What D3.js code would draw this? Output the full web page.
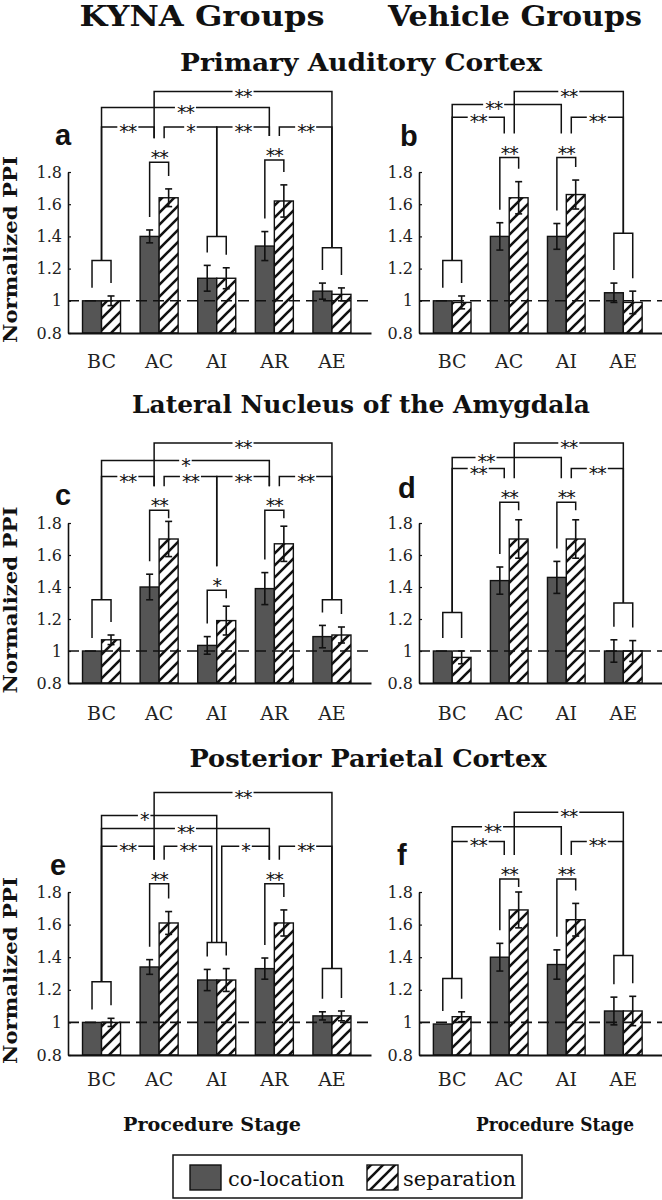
<!DOCTYPE html>
<html><head><meta charset="utf-8">
<script src="https://cdn.jsdelivr.net/npm/d3@7"></script>
<style>body{margin:0;background:#fff}svg{display:block}</style>
</head><body>
<svg id="chart" width="662" height="1200"></svg>
<script>
// ---------- data ----------
const kynaStages = ["BC", "AC", "AI", "AR", "AE"];
const vehicleStages = ["BC", "AC", "AI", "AE"];
const seriesNames = ["co-location", "separation"];
const yTicks = [0.8, 1, 1.2, 1.4, 1.6, 1.8];
const groupTitles = ["KYNA Groups", "Vehicle Groups"];
const regionTitles = ["Primary Auditory Cortex", "Lateral Nucleus of the Amygdala", "Posterior Parietal Cortex"];
const yLabel = "Normalized PPI";
const xLabel = "Procedure Stage";

// panel a (KYNA, auditory cortex)
const aColoc = [1.00, 1.40, 1.14, 1.34, 1.06];
const aColocErr = [0, 0.04, 0.08, 0.09, 0.05];
const aSep = [1.00, 1.64, 1.14, 1.62, 1.04];
const aSepErr = [0.03, 0.055, 0.065, 0.10, 0.04];
const aPairSig = ["", "**", "", "**", ""];
const aPairTop = [1.25, 1.86, 1.40, 1.875, 1.33];
const aComparisons = [
  ["BC", "c", "AC", "l", 2.08, "**"],
  ["AC", "r", "AI", "c", 2.08, "*"],
  ["AI", "c", "AR", "l", 2.08, "**"],
  ["AR", "r", "AE", "c", 2.08, "**"],
  ["BC", "c", "AR", "l", 2.20, "**"],
  ["AC", "l", "AE", "c", 2.30, "**"]
];

// panel b (Vehicle, auditory cortex)
const bColoc = [1.00, 1.40, 1.40, 1.05];
const bColocErr = [0, 0.085, 0.08, 0.06];
const bSep = [0.99, 1.64, 1.66, 0.99];
const bSepErr = [0.04, 0.10, 0.09, 0.07];
const bPairSig = ["", "**", "**", ""];
const bPairTop = [1.25, 1.89, 1.89, 1.42];
const bComparisons = [
  ["BC", "c", "AC", "l", 2.14, "**"],
  ["AI", "r", "AE", "c", 2.14, "**"],
  ["BC", "c", "AI", "l", 2.22, "**", 0.38],
  ["AC", "r", "AE", "c", 2.30, "**"]
];

// panel c (KYNA, amygdala)
const cColoc = [1.00, 1.40, 1.035, 1.39, 1.09];
const cColocErr = [0, 0.08, 0.055, 0.10, 0.07];
const cSep = [1.07, 1.70, 1.19, 1.67, 1.10];
const cSepErr = [0.03, 0.11, 0.09, 0.11, 0.05];
const cPairSig = ["", "**", "*", "**", ""];
const cPairTop = [1.32, 1.88, 1.38, 1.88, 1.32];
const cComparisons = [
  ["BC", "c", "AC", "l", 2.09, "**"],
  ["AC", "r", "AI", "c", 2.09, "**"],
  ["AI", "c", "AR", "l", 2.09, "**"],
  ["AR", "r", "AE", "c", 2.09, "**"],
  ["BC", "c", "AR", "l", 2.19, "*"],
  ["AC", "l", "AE", "c", 2.30, "**"]
];

// panel d (Vehicle, amygdala)
const dColoc = [1.00, 1.44, 1.46, 1.00];
const dColocErr = [0, 0.085, 0.10, 0.07];
const dSep = [0.96, 1.70, 1.70, 1.00];
const dSepErr = [0.04, 0.12, 0.12, 0.065];
const dPairSig = ["", "**", "**", ""];
const dPairTop = [1.24, 1.93, 1.93, 1.30];
const dComparisons = [
  ["BC", "c", "AC", "l", 2.14, "**"],
  ["AI", "r", "AE", "c", 2.14, "**"],
  ["BC", "c", "AI", "l", 2.21, "**", 0.31],
  ["AC", "r", "AE", "c", 2.30, "**"]
];

// panel e (KYNA, parietal cortex)
const eColoc = [1.00, 1.34, 1.26, 1.33, 1.04];
const eColocErr = [0, 0.045, 0.065, 0.065, 0.025];
const eSep = [1.00, 1.61, 1.26, 1.61, 1.04];
const eSepErr = [0.025, 0.07, 0.07, 0.08, 0.03];
const ePairSig = ["", "**", "", "**", ""];
const ePairTop = [1.25, 1.85, 1.49, 1.85, 1.33];
const eComparisons = [
  ["BC", "c", "AC", "l", 2.08, "**"],
  ["AC", "r", "AI", "l", 2.08, "**"],
  ["AI", "r", "AR", "l", 2.08, "*"],
  ["AR", "r", "AE", "c", 2.08, "**"],
  ["BC", "c", "AR", "l", 2.19, "**"],
  ["BC", "c", "AI", "c", 2.27, "*", 0.37],
  ["AC", "l", "AE", "c", 2.41, "**"]
];

// panel f (Vehicle, parietal cortex)
const fColoc = [0.99, 1.40, 1.355, 1.07];
const fColocErr = [0, 0.085, 0.09, 0.085];
const fSep = [1.035, 1.69, 1.63, 1.07];
const fSepErr = [0.03, 0.11, 0.10, 0.09];
const fPairSig = ["", "**", "**", ""];
const fPairTop = [1.27, 1.88, 1.88, 1.41];
const fComparisons = [
  ["BC", "c", "AC", "l", 2.11, "**"],
  ["AI", "r", "AE", "c", 2.11, "**"],
  ["BC", "c", "AI", "l", 2.20, "**", 0.37],
  ["AC", "r", "AE", "c", 2.29, "**"]
];

const panels = [
  {letter: "a", row: 0, col: 0, stages: kynaStages, coloc: aColoc, colocErr: aColocErr, sep: aSep, sepErr: aSepErr, pairSig: aPairSig, pairTop: aPairTop, comps: aComparisons},
  {letter: "b", row: 0, col: 1, stages: vehicleStages, coloc: bColoc, colocErr: bColocErr, sep: bSep, sepErr: bSepErr, pairSig: bPairSig, pairTop: bPairTop, comps: bComparisons},
  {letter: "c", row: 1, col: 0, stages: kynaStages, coloc: cColoc, colocErr: cColocErr, sep: cSep, sepErr: cSepErr, pairSig: cPairSig, pairTop: cPairTop, comps: cComparisons},
  {letter: "d", row: 1, col: 1, stages: vehicleStages, coloc: dColoc, colocErr: dColocErr, sep: dSep, sepErr: dSepErr, pairSig: dPairSig, pairTop: dPairTop, comps: dComparisons},
  {letter: "e", row: 2, col: 0, stages: kynaStages, coloc: eColoc, colocErr: eColocErr, sep: eSep, sepErr: eSepErr, pairSig: ePairSig, pairTop: ePairTop, comps: eComparisons},
  {letter: "f", row: 2, col: 1, stages: vehicleStages, coloc: fColoc, colocErr: fColocErr, sep: fSep, sepErr: fSepErr, pairSig: fPairSig, pairTop: fPairTop, comps: fComparisons}
];

// ---------- layout ----------
const rows = [
  {top: 172, bottom: 333, tickGap: 29, title: [361, 71, 362]},
  {top: 523, bottom: 683, tickGap: 31, title: [361, 413, 458]},
  {top: 892, bottom: 1055, tickGap: 25, title: [368, 767, 357]}
];
const cols = [{x0: 68, x1: 371}, {x0: 419, x1: 662}];
const letterPos = {a: [55, 145], b: [400, 146], c: [55, 505], d: [398, 498], e: [50, 875], f: [397, 865]};
const SERIF = "'DejaVu Serif', serif";
const INK = "#111";

const svg = d3.select("#chart");
svg.append("rect").attr("width", 662).attr("height", 1200).attr("fill", "#fff");
const defs = svg.append("defs");
const pat = defs.append("pattern").attr("id", "hatch").attr("patternUnits", "userSpaceOnUse")
  .attr("width", 12).attr("height", 12);
pat.append("rect").attr("width", 12).attr("height", 12).attr("fill", "#fff");
pat.append("path").attr("d", "M-3,3L3,-3M0,12L12,0M9,15L15,9")
  .attr("stroke", INK).attr("stroke-width", 2.6);
const fills = {"co-location": "#555", "separation": "url(#hatch)"};

function titleText(txt, x, y, size, len) {
  svg.append("text").attr("x", x).attr("y", y).attr("text-anchor", "middle")
    .attr("font-family", SERIF).attr("font-weight", "bold").attr("font-size", size)
    .attr("fill", INK).attr("textLength", len).attr("lengthAdjust", "spacingAndGlyphs").text(txt);
}

// group titles
titleText(groupTitles[0], 202, 26, 28, 245);
titleText(groupTitles[1], 515, 26, 28, 254);
// region titles
rows.forEach((r, i) => titleText(regionTitles[i], r.title[0], r.title[1], 24, r.title[2]));

const STAR_FS = 19;
function starLabel(g, x, cy, label) {
  return g.append("text").attr("x", x).attr("y", cy + STAR_FS * 0.58)
    .attr("text-anchor", "middle").attr("font-family", "'DejaVu Sans', sans-serif")
    .attr("font-size", STAR_FS).attr("fill", INK).attr("letter-spacing", -1).text(label);
}

panels.forEach(p => {
  const R = rows[p.row], C = cols[p.col];
  const x = d3.scaleBand().domain(p.stages).range([C.x0, C.x1])
    .paddingInner(0.34).paddingOuter(0.3).align(0.42);
  const xs = d3.scaleBand().domain(seriesNames).range([0, x.bandwidth()]);
  const y = d3.scaleLinear().domain([0.8, 1.8]).range([R.bottom, R.top]);
  const g = svg.append("g");

  const groups = p.stages.map((s, i) => ({
    stage: s, i,
    vals: [
      {series: "co-location", v: p.coloc[i], e: p.colocErr[i]},
      {series: "separation", v: p.sep[i], e: p.sepErr[i]}
    ]
  }));
  const flat = groups.flatMap(gr => gr.vals.map(d => Object.assign({stage: gr.stage}, d)));

  // bars
  g.selectAll("rect.bar").data(flat).join("rect").attr("class", "bar")
    .attr("x", d => x(d.stage) + xs(d.series))
    .attr("y", d => y(d.v))
    .attr("width", xs.bandwidth())
    .attr("height", d => y(0.8) - y(d.v))
    .attr("fill", d => fills[d.series])
    .attr("stroke", INK).attr("stroke-width", 1.4);

  // error bars
  const eb = flat.filter(d => d.e > 0);
  const cx = d => x(d.stage) + xs(d.series) + xs.bandwidth() / 2;
  g.selectAll("line.err").data(eb).join("line").attr("class", "err")
    .attr("x1", cx).attr("x2", cx)
    .attr("y1", d => y(d.v - d.e)).attr("y2", d => y(d.v + d.e))
    .attr("stroke", INK).attr("stroke-width", 1.6);
  ["+", "-"].forEach(sgn => {
    g.selectAll("line.cap" + (sgn === "+" ? "u" : "d")).data(eb).join("line")
      .attr("x1", d => cx(d) - 3.5).attr("x2", d => cx(d) + 3.5)
      .attr("y1", d => y(sgn === "+" ? d.v + d.e : d.v - d.e))
      .attr("y2", d => y(sgn === "+" ? d.v + d.e : d.v - d.e))
      .attr("stroke", INK).attr("stroke-width", 1.6);
  });

  // dashed reference at 1
  g.append("line").attr("x1", C.x0).attr("x2", C.x1).attr("y1", y(1)).attr("y2", y(1))
    .attr("stroke", INK).attr("stroke-width", 1.6).attr("stroke-dasharray", "11,6");

  // y axis
  const ya = g.append("g").attr("transform", `translate(${C.x0},0)`)
    .call(d3.axisLeft(y).tickValues(yTicks).tickSize(-3).tickSizeOuter(0).tickPadding(6)
      .tickFormat(d => d === 1 ? "1" : d.toFixed(1)));
  ya.select(".domain").attr("stroke", INK).attr("stroke-width", 1.6);
  ya.selectAll(".tick line").attr("stroke", INK).attr("stroke-width", 1.2);
  ya.selectAll(".tick text").attr("font-family", SERIF).attr("font-size", 16).attr("fill", "#222");

  // x axis
  const xa = g.append("g").attr("transform", `translate(0,${R.bottom})`)
    .call(d3.axisBottom(x).tickSize(0).tickSizeOuter(0).tickPadding(R.tickGap - 7));
  xa.select(".domain").attr("stroke", INK).attr("stroke-width", 2.2);
  xa.selectAll(".tick text").attr("font-family", SERIF).attr("font-size", 19).attr("fill", "#222");

  // within-stage brackets
  const pairTopY = i => y(p.pairTop[i]);
  groups.forEach(gr => {
    const i = gr.i, top = pairTopY(i);
    const xl = x(gr.stage) + xs("co-location") + xs.bandwidth() / 2;
    const xr = x(gr.stage) + xs("separation") + xs.bandwidth() / 2;
    const leg = d => Math.max(top + 8, y(d.v + d.e) - 13);
    g.append("path")
      .attr("d", `M${xl},${leg(gr.vals[0])}V${top}H${xr}V${leg(gr.vals[1])}`)
      .attr("fill", "none").attr("stroke", INK).attr("stroke-width", 1.5);
    if (p.pairSig[i]) starLabel(g, (xl + xr) / 2, top - 9, p.pairSig[i]);
  });

  // between-stage comparisons
  const sideOff = {l: -5, c: 0, r: 5};
  const anchorX = (stage, side) => x(stage) + x.bandwidth() / 2 + sideOff[side];
  const riserEnd = stage => {
    const i = p.stages.indexOf(stage);
    return p.pairSig[i] ? pairTopY(i) - 24 : pairTopY(i);
  };
  p.comps.forEach(([s1, sd1, s2, sd2, level, label, pos]) => {
    const ly = y(level), x1 = anchorX(s1, sd1), x2 = anchorX(s2, sd2);
    const f = pos === undefined ? 0.5 : pos;
    const lx = x1 + (x2 - x1) * f;
    const t = starLabel(g, lx, ly, label);
    const half = t.node().getComputedTextLength() / 2 + 2;
    g.append("path")
      .attr("d", `M${x1},${riserEnd(s1)}V${ly}H${lx - half}M${lx + half},${ly}H${x2}V${riserEnd(s2)}`)
      .attr("fill", "none").attr("stroke", INK).attr("stroke-width", 1.5);
  });

  // y label
  const midY = (R.top + R.bottom) / 2 - 3;
  svg.append("text").attr("transform", `translate(${p.col === 0 ? 17 : -100},${midY}) rotate(-90)`)
    .attr("text-anchor", "middle").attr("font-family", SERIF).attr("font-weight", "bold")
    .attr("font-size", 18).attr("fill", INK)
    .attr("textLength", 187).attr("lengthAdjust", "spacingAndGlyphs")
    .text(p.col === 0 ? yLabel : "");

  // panel letter
  svg.append("text").attr("x", letterPos[p.letter][0]).attr("y", letterPos[p.letter][1])
    .attr("font-family", "'Liberation Sans', Arial, sans-serif").attr("font-weight", "bold")
    .attr("font-size", 29).attr("fill", INK).text(p.letter);
});

// x axis titles
titleText(xLabel, 212, 1131, 19, 178);
titleText(xLabel, 555, 1131, 19, 158);

// legend
const lg = svg.append("g");
lg.append("rect").attr("x", 173).attr("y", 1155).attr("width", 349).attr("height", 43)
  .attr("fill", "#fff").attr("stroke", INK).attr("stroke-width", 1.5);
const legendItems = [
  {series: seriesNames[0], sx: 190, tx: 228},
  {series: seriesNames[1], sx: 367, tx: 403}
];
legendItems.forEach(it => {
  lg.append("rect").attr("x", it.sx).attr("y", 1165).attr("width", 31).attr("height", 25)
    .attr("fill", fills[it.series]).attr("stroke", INK).attr("stroke-width", 1.4);
  lg.append("text").attr("x", it.tx).attr("y", 1186).attr("font-family", SERIF)
    .attr("font-size", 21).attr("fill", INK).text(it.series);
});
</script>
</body></html>
